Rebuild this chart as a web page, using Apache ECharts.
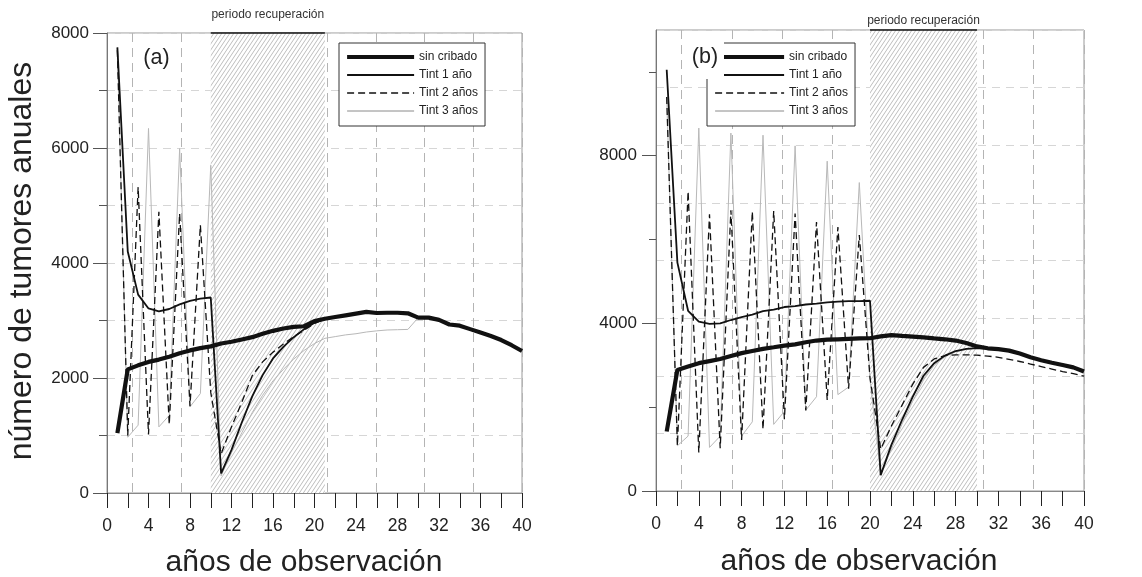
<!DOCTYPE html>
<html><head><meta charset="utf-8">
<script src="https://cdn.jsdelivr.net/npm/echarts@6/dist/echarts.min.js"></script>
<style>html,body{margin:0;padding:0;background:#fff}#c{width:1142px;height:577px}</style>
</head><body><div id="c"></div>
<script>
// ---------- data ----------
const years = [1,2,3,4,5,6,7,8,9,10,11,12,13,14,15,16,17,18,19,20,21,22,23,24,25,26,27,28,29,30,31,32,33,34,35,36,37,38,39,40];
const seriesNames = ['sin cribado','Tint 1 año','Tint 2 años','Tint 3 años'];
const xTickLabels = [0,4,8,12,16,20,24,28,32,36,40];
const yLabelsA = [0,2000,4000,6000,8000];
const yCatsB = ['0','1000','2000','3000','4000','5000','6000','7000','8000','9000','10000','11000'];
const yLabelsB = ['0','4000','8000'];
const yMinorB = ['2000','6000','10000'];
const recoveryA = [10, 21];
const recoveryB = [20, 30];
const recoveryLabel = 'periodo recuperación';
const panelLabels = ['(a)', '(b)'];
const xTitle = 'años de observación';
const yTitle = 'número de tumores anuales';

// panel (a)
const sinCribadoA = [1040,2150,2220,2280,2320,2370,2430,2480,2520,2550,2600,2630,2670,2710,2770,2820,2860,2890,2900,2990,3030,3060,3090,3120,3150,3130,3135,3135,3125,3050,3050,3010,2930,2910,2850,2790,2730,2660,2570,2470];
const tint1A = [7750,4200,3450,3210,3160,3200,3280,3340,3380,3400,340,750,1230,1680,2050,2340,2540,2710,2850,2960,3030];
const tint2A = [7700,1000,5320,1020,4890,1190,4860,1510,4660,1750,680,1150,1580,2040,2280,2450,2590,2720,2830,2950,3030];
const tint3A = [7750,970,1180,6340,1150,1350,5990,1500,1730,5700,300,700,1050,1400,1700,1950,2150,2330,2480,2600,2690,2720,2750,2770,2800,2820,2835,2840,2845,3050];

// panel (b)
const sinCribadoB = [1420,2890,2970,3050,3100,3150,3220,3290,3340,3390,3430,3470,3500,3550,3590,3610,3620,3630,3640,3645,3690,3720,3700,3685,3665,3640,3620,3590,3530,3450,3405,3385,3350,3280,3190,3120,3060,3005,2950,2850];
const tint1B = [10050,5450,4300,4040,3990,4000,4080,4150,4210,4290,4330,4390,4410,4450,4470,4500,4520,4530,4530,4540,380,1100,1700,2250,2750,3050,3230,3340,3390,3410,3405];
const tint2B = [9400,1080,7150,920,6600,1020,6700,1220,6670,1470,6680,1710,6620,1920,6420,2170,6300,2440,6110,2700,1000,1550,2050,2550,2950,3150,3230,3250,3250,3240,3220,3190,3140,3090,3030,2970,2910,2850,2800,2740];
const tint3B = [9400,1080,1310,8660,1040,1310,8540,1310,1650,8490,1590,1900,8235,1930,2250,7870,2300,2480,7360,2650,420,1000,1600,2150,2650,3000,3200,3320,3380,3410,3405];

// ---------- styling ----------
const FONT = '"Liberation Sans", Arial, Helvetica, sans-serif';
const TXT = '#222';

function makeHatch(){
  const c = document.createElement('canvas');
  c.width = 4; c.height = 6;
  const g = c.getContext('2d');
  g.fillStyle = '#fff'; g.fillRect(0,0,4,6);
  g.strokeStyle = '#999'; g.lineWidth = 0.65;
  g.beginPath();
  for (const dx of [-4,0,4]) { g.moveTo(dx-0.67, 7); g.lineTo(dx+4.67, -1); }
  g.stroke();
  return c;
}
const hatch = makeHatch();

const lineStyles = [
  {color:'#111', width:4.2, type:'solid'},
  {color:'#111', width:1.8, type:'solid'},
  {color:'#111', width:1.3, type:[7,4]},
  {color:'#b8b8b8', width:1, type:'solid'}
];
const zs = [6,5,4,3];

function pairs(vals){ return vals.map((v,i)=>[years[i], v]); }

function panelSeries(xIdx, yIdx, dataList, rec, yMax, labelDist){
  return dataList.map((vals,k)=>{
    const s = {
      name: seriesNames[k], type:'line', xAxisIndex:xIdx, yAxisIndex:yIdx,
      data: pairs(vals), symbol:'none', showSymbol:false, z:zs[k], silent:true,
      lineStyle: lineStyles[k], itemStyle:{color: lineStyles[k].color}
    };
    if (k===0){
      s.markArea = {
        silent:true, z:1,
        itemStyle:{color:{image:hatch, repeat:'repeat'}, borderWidth:0},
        label:{show:true, position:'top', distance:labelDist, color:'#333', fontSize:12, fontFamily:FONT},
        data:[[{name:recoveryLabel, xAxis:rec[0]}, {xAxis:rec[1]}]]
      };
      s.markLine = {
        silent:true, symbol:['none','none'], label:{show:false}, z:7,
        lineStyle:{color:'#111', width:1.5, type:'solid'},
        data:[[{coord:[rec[0], yMax]}, {coord:[rec[1], yMax]}]]
      };
    }
    return s;
  });
}

function mainX(gi){
  return {
    type:'value', gridIndex:gi, min:0, max:40, interval:2, position:'bottom',
    axisLine:{show:true, onZero:false, lineStyle:{color:'#888', width:1}},
    axisTick:{show:true, inside:false, length:15, lineStyle:{color:'#222', width:1}},
    axisLabel:{margin:24, fontSize:17.5, color:TXT, fontFamily:FONT,
      formatter:(v)=> xTickLabels.indexOf(v) >= 0 ? String(v) : ''},
    splitLine:{show:false}
  };
}
function gridX(gi, step){
  return {
    type:'value', gridIndex:gi, min:0, max:40, interval:step, inverse:true, position:'top',
    axisLine:{show:false, onZero:false}, axisTick:{show:false}, axisLabel:{show:false},
    splitLine:{show:true, lineStyle:{color:'#b4b4b4', width:1, type:[9,6]}}
  };
}
const hSplit = {show:true, lineStyle:{color:'#d6d6d6', width:1, type:[8,6]}};

function legendFor(left, itemWidth){
  return {
    data: seriesNames.map((n,k)=> k===3 ? {name:n, lineStyle:{color:'#8a8a8a'}} : n),
    left:left, top:43, orient:'vertical', itemWidth:itemWidth, itemHeight:14, itemGap:6,
    padding:[8,7,9,6], borderColor:'#333', borderWidth:1, backgroundColor:'#fff', borderRadius:0,
    itemStyle:{opacity:0},
    lineStyle:{width:'inherit'},
    textStyle:{fontSize:12, color:TXT, fontFamily:FONT}, selectedMode:false, z:10
  };
}

const option = {
  animation:false,
  backgroundColor:'#fff',
  textStyle:{fontFamily:FONT},
  grid:[
    {left:107, top:33, width:415, height:460, show:true, borderColor:'#999', borderWidth:1, containLabel:false},
    {left:656, top:30, width:428, height:461, show:true, borderColor:'#999', borderWidth:1, containLabel:false}
  ],
  xAxis:[ mainX(0), gridX(0, 4.69), mainX(1), gridX(1, 4.7) ],
  yAxis:[
    { type:'value', gridIndex:0, min:0, max:8000, interval:2000, position:'left',
      axisLine:{show:true, onZero:false, lineStyle:{color:'#777'}},
      axisTick:{show:true, length:14, lineStyle:{color:'#555'}},
      minorTick:{show:true, splitNumber:2, length:8, lineStyle:{color:'#555'}},
      axisLabel:{margin:18, fontSize:17, color:TXT, fontFamily:FONT, formatter:(v)=>String(v)},
      splitLine:{show:false} },
    { type:'value', gridIndex:0, min:0, max:8000, interval:1000, position:'right',
      axisLine:{show:false, onZero:false}, axisTick:{show:false}, axisLabel:{show:false}, splitLine:hSplit },
    // panel (b): value axis carries the series and the dashed grid
    { type:'value', gridIndex:1, min:0, max:11000, interval:1375, position:'left',
      axisLine:{show:true, onZero:false, lineStyle:{color:'#777'}},
      axisTick:{show:false}, axisLabel:{show:false}, splitLine:hSplit },
    // panel (b): labelled long ticks
    { type:'category', gridIndex:1, data:yCatsB, boundaryGap:false, position:'left',
      axisLine:{show:false, onZero:false},
      axisTick:{show:true, length:14, lineStyle:{color:'#555'}, interval:(i,v)=> yLabelsB.indexOf(v) >= 0},
      axisLabel:{margin:19, fontSize:17, color:TXT, fontFamily:FONT, interval:(i,v)=> yLabelsB.indexOf(v) >= 0},
      splitLine:{show:false} },
    // panel (b): short minor ticks
    { type:'category', gridIndex:1, data:yCatsB, boundaryGap:false, position:'left',
      axisLine:{show:false, onZero:false},
      axisTick:{show:true, length:7, lineStyle:{color:'#555'}, interval:(i,v)=> yMinorB.indexOf(v) >= 0},
      axisLabel:{show:false}, splitLine:{show:false} }
  ],
  legend:[ legendFor(339, 67), legendFor(707, 69) ],
  graphic:[
    {type:'text', x:22, y:261, rotation:Math.PI/2, z:100,
      style:{text:yTitle, font:'32px '+FONT, fill:TXT, align:'center', verticalAlign:'middle'}},
    {type:'text', x:304, y:563, z:100,
      style:{text:xTitle, font:'30px '+FONT, fill:TXT, align:'center', verticalAlign:'middle'}},
    {type:'text', x:859, y:562, z:100,
      style:{text:xTitle, font:'30px '+FONT, fill:TXT, align:'center', verticalAlign:'middle'}},
    {type:'text', x:156.5, y:58, z:100,
      style:{text:panelLabels[0], font:'21.5px '+FONT, fill:TXT, align:'center', verticalAlign:'middle'}},
    {type:'rect', z:100, shape:{x:688, y:40, width:36, height:39}, style:{fill:'#fff'}},
    {type:'text', x:705, y:57, z:101,
      style:{text:panelLabels[1], font:'21.5px '+FONT, fill:TXT, align:'center', verticalAlign:'middle'}}
  ],
  series:[
    ...panelSeries(0, 0, [sinCribadoA, tint1A, tint2A, tint3A], recoveryA, 8000, 12),
    ...panelSeries(2, 2, [sinCribadoB, tint1B, tint2B, tint3B], recoveryB, 11000, 3)
  ]
};

const chart = echarts.init(document.getElementById('c'), null, {renderer:'canvas'});
chart.setOption(option);
</script>
</body></html>
